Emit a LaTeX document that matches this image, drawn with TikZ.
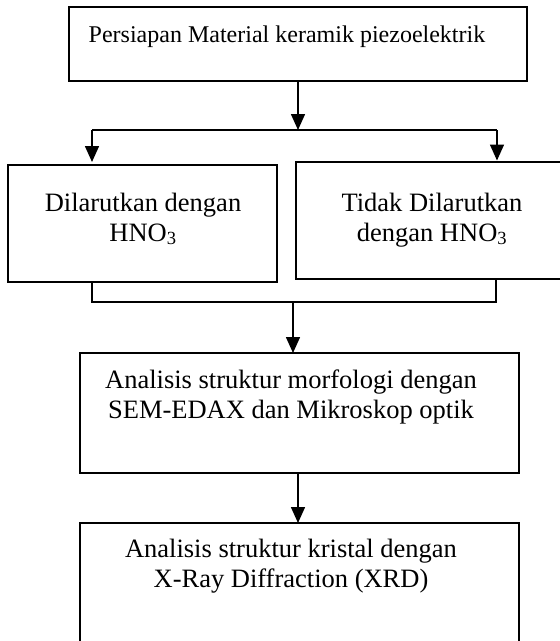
\documentclass[tikz,border=0pt]{standalone}
\usepackage{fontspec}
\setmainfont{Liberation Serif}
\usetikzlibrary{arrows.meta}
\begin{document}
\begin{tikzpicture}[x=1pt,y=-1pt,
  box/.style={draw=black,line width=1.6pt,rectangle,inner sep=0pt,outer sep=0pt,anchor=north west},
  txt/.style={inner sep=0pt,outer sep=0pt,anchor=base,align=center,font=\fontsize{26.5}{29.5}\selectfont},
  toptxt/.style={inner sep=0pt,outer sep=0pt,anchor=base,font=\fontsize{24}{27}\selectfont},
  conn/.style={draw=black,line width=1.5pt},
  arr/.style={conn,-{Triangle[length=16pt,width=14pt]}}]
\fill[white] (0,0) rectangle (560,641);
\useasboundingbox (0,0) rectangle (560,641);
% boxes
\node[box,minimum width=458pt,minimum height=74pt] (b0) at (69,7) {};
\node[box,minimum width=269pt,minimum height=117pt] (bl) at (8,165) {};
\node[box,minimum width=272pt,minimum height=117pt] (br) at (296,162) {};
\node[box,minimum width=439pt,minimum height=120pt] (b3) at (80,353) {};
\node[box,minimum width=439pt,minimum height=140pt] (b4) at (80,523) {};
% texts (base anchor = baseline of the last line)
\node[toptxt] (t0) at (287,42) {Persiapan Material keramik piezoelektrik};
\node[txt] (tl) at (143,241) {Dilarutkan dengan\\HNO\textsubscript{3}};
\node[txt] (tr) at (432,241) {Tidak Dilarutkan\\dengan HNO\textsubscript{3}};
\node[txt] (t3) at (291,418) {Analisis struktur morfologi dengan\\SEM-EDAX dan Mikroskop optik};
\node[txt] (t4) at (291,587) {Analisis struktur kristal dengan\\X-Ray Diffraction (XRD)};
% split
\coordinate (s1) at (92,130);
\coordinate (s2) at (497,130);
\draw[arr] (b0.south) -- (b0.south |- s1);
\draw[conn] (s1) -- (s2);
\draw[arr,shorten >=3pt] (s1) -- (s1 |- bl.north);
\draw[arr,shorten >=1.5pt] (s2) -- (s2 |- br.north);
% merge
\coordinate (m1) at (92,302);
\coordinate (m2) at (496,302);
\coordinate (m0) at (293,302);
\draw[conn] (m1 |- bl.south) -- (m1) -- (m2) -- (m2 |- br.south);
\draw[arr] (m0) -- (m0 |- b3.north);
\coordinate (c3) at (298,473);
\draw[arr] (c3) -- (c3 |- b4.north);
\end{tikzpicture}
\end{document}
